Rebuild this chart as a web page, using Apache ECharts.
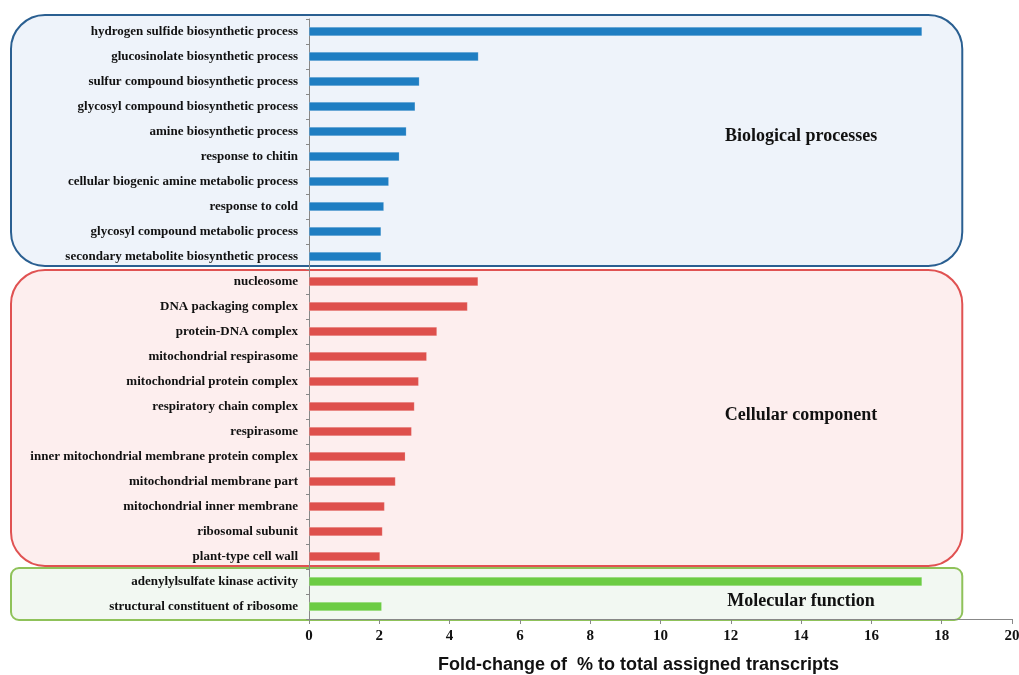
<!DOCTYPE html>
<html>
<head>
<meta charset="utf-8">
<script src="https://cdn.jsdelivr.net/npm/echarts@6/dist/echarts.min.js"></script>
<style>
	html,body{margin:0;padding:0;background:#fff;}
	#main{width:1019px;height:675px;}
</style>
</head>
<body>
<div id="main"></div>
<script>
// Biological processes
var bpLabels = ['hydrogen sulfide biosynthetic process','glucosinolate biosynthetic process','sulfur compound biosynthetic process','glycosyl compound biosynthetic process','amine biosynthetic process','response to chitin','cellular biogenic amine metabolic process','response to cold','glycosyl compound metabolic process','secondary metabolite biosynthetic process'];
var bpValues = [17.44, 4.82, 3.14, 3.02, 2.77, 2.57, 2.27, 2.13, 2.05, 2.05];
// Cellular component
var ccLabels = ['nucleosome','DNA packaging complex','protein-DNA complex','mitochondrial respirasome','mitochondrial protein complex','respiratory chain complex','respirasome','inner mitochondrial membrane protein complex','mitochondrial membrane part','mitochondrial inner membrane','ribosomal subunit','plant-type cell wall'];
var ccValues = [4.81, 4.51, 3.64, 3.35, 3.12, 3.0, 2.92, 2.74, 2.46, 2.15, 2.09, 2.02];
// Molecular function
var mfLabels = ['adenylylsulfate kinase activity','structural constituent of ribosome'];
var mfValues = [17.44, 2.07];

var groups = [
	{name:'Biological processes', labels:bpLabels, values:bpValues, bar:'#1f7ec2', edge:'#2a5f91', fill:'#eef3fa', r:34, pad:[16.5, 9.5], textAt:[14, 4.18]},
	{name:'Cellular component', labels:ccLabels, values:ccValues, bar:'#de504c', edge:'#e05252', fill:'#fdeeee', r:34, pad:[11.5, 9.5], textAt:[14, 5.34]},
	{name:'Molecular function', labels:mfLabels, values:mfValues, bar:'#6ccc44', edge:'#8fc25a', fill:'#f2f8f2', r:8, pad:[13.5, 13.5], textAt:[14, 0.78]}
];

var categories = [], barData = [];
groups.forEach(function(g){
	g.labels.forEach(function(l, i){
		categories.push(l);
		barData.push({value:g.values[i], itemStyle:{color:g.bar}});
	});
});

var serif = 'Liberation Serif';
var chart = echarts.init(document.getElementById('main'));
chart.setOption({
	animation:false,
	grid:{left:309, right:7, top:19, bottom:56, containLabel:false, outerBoundsMode:'none'},
	xAxis:{
		type:'value', min:0, max:20, interval:2,
		name:'Fold-change of  % to total assigned transcripts',
		nameLocation:'middle', nameGap:37,
		nameTextStyle:{fontFamily:'Liberation Sans', fontWeight:'bold', fontSize:18, color:'#111', padding:[0,44,0,0]},
		axisLine:{show:true, lineStyle:{color:'#888', width:1}},
		axisTick:{show:true, length:5, lineStyle:{color:'#888'}},
		axisLabel:{fontFamily:serif, fontWeight:'bold', fontSize:15, color:'#111', margin:10},
		splitLine:{show:false}
	},
	yAxis:{
		type:'category', data:categories, inverse:true,
		axisLine:{show:true, lineStyle:{color:'#888', width:1}},
		axisTick:{show:true, length:3, lineStyle:{color:'#888'}},
		axisLabel:{fontFamily:serif, fontWeight:'bold', fontSize:13, color:'#111', margin:11}
	},
	series:[{
		type:'bar', data:barData, barWidth:9,
		itemStyle:{borderColor:'rgba(255,255,255,0.35)', borderWidth:0.5}
	}]
});

// background panels and group titles, placed through the axes
var graphics = [];
var xRight = chart.convertToPixel({xAxisIndex:0}, 18.5) + 3;
var idx = 0;
groups.forEach(function(g){
	var first = chart.convertToPixel({yAxisIndex:0}, categories[idx]);
	var last = chart.convertToPixel({yAxisIndex:0}, categories[idx + g.labels.length - 1]);
	var top = first - g.pad[0], bottom = last + g.pad[1];
	graphics.push({
		type:'rect', z:-10,
		shape:{x:11, y:top, width:xRight - 11, height:bottom - top, r:g.r},
		style:{fill:g.fill, stroke:g.edge, lineWidth:2}
	});
	var ty = first + g.textAt[1] * (last - first) / Math.max(1, g.labels.length - 1);
	graphics.push({
		type:'text', z:10,
		x:chart.convertToPixel({xAxisIndex:0}, g.textAt[0]), y:ty,
		style:{text:g.name, fontFamily:serif, fontWeight:'bold', fontSize:18, fill:'#111', align:'center', verticalAlign:'middle'}
	});
	idx += g.labels.length;
});
chart.setOption({graphic:graphics});
</script>
</body>
</html>
